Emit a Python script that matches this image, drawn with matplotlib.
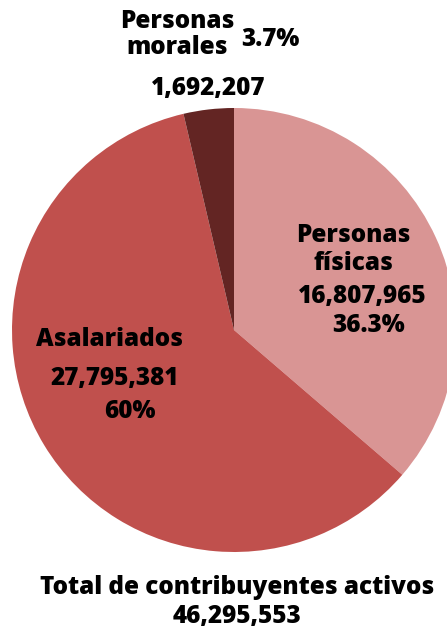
import matplotlib
matplotlib.use("Agg")
import matplotlib.pyplot as plt

categories = ["Personas físicas", "Asalariados", "Personas morales"]
values = [16807965, 27795381, 1692207]
percent_labels = ["36.3%", "60%", "3.7%"]
total = 46295553
colors = ["#D99594", "#C0504D", "#632523"]

plt.rcParams['font.family'] = ['Open Sans', 'DejaVu Sans']

W, H = 447, 630
fig = plt.figure(figsize=(W / 100, H / 100), dpi=100)
ax = fig.add_axes([0, 0, 1, 1])
ax.set_xlim(0, W)
ax.set_ylim(0, H)
ax.set_aspect('equal')
ax.axis('off')

cx, cy, r = 234, H - 330, 222
ax.pie(values, colors=colors, startangle=90, counterclock=False,
       center=(cx, cy), radius=r, frame=True,
       wedgeprops=dict(linewidth=0))
ax.set_xlim(0, W)
ax.set_ylim(0, H)
ax.axis('off')

fs = 17.5
kw = dict(fontsize=fs, fontweight='heavy', color='black', ha='center', va='center')

def fmt(v):
    return f"{v:,}"

# Personas morales
ax.text(177, H - 22, "Personas", **kw)
ax.text(177, H - 48, "morales", **kw)
ax.text(270, H - 40, percent_labels[2], **kw)
ax.text(208, H - 88, fmt(values[2]), **kw)

# Personas físicas
ax.text(353, H - 235, "Personas", **kw)
ax.text(353, H - 263, "físicas", **kw)
ax.text(362, H - 297, fmt(values[0]), **kw)
ax.text(369, H - 326, percent_labels[0], **kw)

# Asalariados
ax.text(110, H - 340, "Asalariados", **kw)
ax.text(115, H - 378, fmt(values[1]), **kw)
ax.text(130, H - 411, percent_labels[1], **kw)

# Total
ax.text(237, H - 588, "Total de contribuyentes activos", **kw)
ax.text(237, H - 616, fmt(total), **kw)

fig.savefig("out.png", dpi=100)
